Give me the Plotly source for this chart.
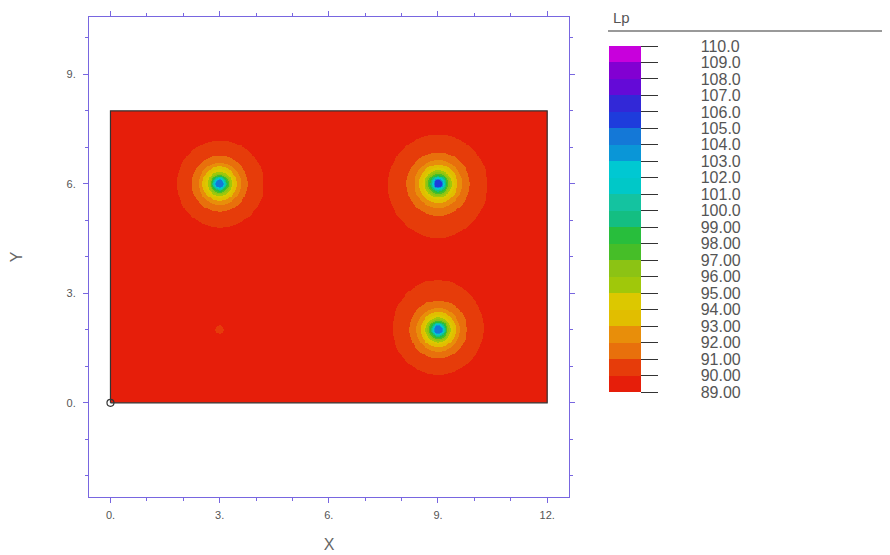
import numpy as np
import plotly.graph_objects as go

# ---------------- data ----------------
room_x = [0, 12, 12, 0, 0]          # room outline (m)
room_y = [0, 0, 8, 8, 0]
origin_x = [0]
origin_y = [0]

src_x = [3.0, 9.0, 9.0, 3.0]        # source positions (m)
src_y = [6.0, 6.0, 2.0, 2.0]
src_lw = [84.1, 85.1, 84.3, 63.5]   # level at 1 m (dB), estimated from ring radii
background_lp = 89.05               # level far from the sources (dB)
near_field_r = 0.1                  # minimum distance used near a source (m)
grid_step = 0.025                   # field sampling (m)

levels = [89, 90, 91, 92, 93, 94, 95, 96, 97, 98, 99, 100,
          101, 102, 103, 104, 105, 106, 107, 108, 109, 110]
level_labels = ["89.00", "90.00", "91.00", "92.00", "93.00", "94.00", "95.00",
                "96.00", "97.00", "98.00", "99.00", "100.0", "101.0", "102.0",
                "103.0", "104.0", "105.0", "106.0", "107.0", "108.0", "109.0",
                "110.0"]
band_colors = ["#E61E0A", "#E63C0A", "#E8700C", "#E88E0A", "#E1BE00", "#DCC800",
               "#A0C80A", "#8CC314", "#46BE28", "#28BE3C", "#14BE82", "#14C3A0",
               "#00C8C8", "#00C8D2", "#0A96D7", "#1478D7", "#1E3CDC", "#3228D7",
               "#640AD7", "#8200D2", "#C800DC"]

x_ticks = [0, 3, 6, 9, 12]
x_tick_labels = ["0.", "3.", "6.", "9.", "12."]
y_ticks = [0, 3, 6, 9]
y_tick_labels = ["0.", "3.", "6.", "9."]

# ---------------- field ----------------
nx = int(round(12 / grid_step))
ny = int(round(8 / grid_step))
xc = grid_step / 2 + grid_step * np.arange(nx)
yc = grid_step / 2 + grid_step * np.arange(ny)
XX, YY = np.meshgrid(xc, yc)
energy = np.full(XX.shape, 10 ** (background_lp / 10))
for sx, sy, lw in zip(src_x, src_y, src_lw):
    r = np.maximum(np.hypot(XX - sx, YY - sy), near_field_r)
    energy += 10 ** ((lw - 20 * np.log10(r)) / 10)
Z = np.round(10 * np.log10(energy), 3)

# stepwise colour scale
nb = len(band_colors)
colorscale = []
for k, c in enumerate(band_colors):
    colorscale.append([k / nb, c])
    colorscale.append([(k + 1) / nb, c])

FONT = "Liberation Sans, Arial, sans-serif"
axis_color = "#7866E0"
nbsp = "\u00a0" * 9

# page body has an 8 px margin: figure is placed at (8, 8)
W, H = 882, 547
L, T = 81, 9            # plot area: 480 x 480 px
PW, PH = 480, 480
R = W - L - PW
B = H - T - PH


def px_x(px):   # page pixel -> paper x
    return (px - 8 - L) / PW


def px_y(py):   # page pixel -> paper y
    return (T + PH - (py - 8)) / PH


fig = go.Figure()
fig.add_trace(go.Heatmap(
    z=Z, x0=xc[0], dx=grid_step, y0=yc[0], dy=grid_step,
    zmin=levels[0], zmax=levels[-1], colorscale=colorscale,
    hoverinfo="skip",
    colorbar=dict(
        x=px_x(609), xanchor="left", xpad=0,
        y=px_y(46), yanchor="top", ypad=0,
        lenmode="pixels", len=346, thickness=32,
        outlinewidth=0,
        tickmode="array", tickvals=levels,
        ticktext=[nbsp + t for t in level_labels],
        ticks="outside", ticklen=17, tickwidth=1, tickcolor="#333",
        tickfont=dict(family=FONT, size=16, color="#555"),
    ),
))
fig.add_trace(go.Scatter(
    x=room_x, y=room_y, mode="lines",
    line=dict(color="#333", width=1.2), hoverinfo="skip", showlegend=False))
fig.add_trace(go.Scatter(
    x=origin_x, y=origin_y, mode="markers",
    marker=dict(symbol="circle-open", size=7, color="#333", line=dict(width=1.2)),
    hoverinfo="skip", showlegend=False))

fig.update_xaxes(
    range=[-0.59, 12.6], tickmode="array", tickvals=x_ticks, ticktext=x_tick_labels,
    ticks="outside", ticklen=5, tickwidth=1, tickcolor=axis_color,
    showline=True, linecolor=axis_color, linewidth=1, mirror="ticks",
    showgrid=False, zeroline=False, automargin=False, ticklabelstandoff=3,
    minor=dict(tickmode="linear", tick0=0, dtick=1, ticks="outside", ticklen=3,
               tickcolor=axis_color, showgrid=False),
    tickfont=dict(family=FONT, size=11, color="#555"),
    title=dict(text="X", font=dict(family=FONT, size=16, color="#666"), standoff=18),
)
fig.update_yaxes(
    range=[-2.58, 10.57], tickmode="array", tickvals=y_ticks, ticktext=y_tick_labels,
    ticks="outside", ticklen=5, tickwidth=1, tickcolor=axis_color,
    showline=True, linecolor=axis_color, linewidth=1, mirror="ticks",
    showgrid=False, zeroline=False, automargin=False, ticklabelstandoff=5,
    minor=dict(tickmode="linear", tick0=0, dtick=1, ticks="outside", ticklen=3,
               tickcolor=axis_color, showgrid=False),
    tickfont=dict(family=FONT, size=11, color="#555"),
    title=dict(text="Y", font=dict(family=FONT, size=16, color="#666"), standoff=40),
)

fig.update_layout(
    template="none",
    width=W, height=H,
    margin=dict(l=L, r=R, t=T, b=B, pad=0),
    paper_bgcolor="white", plot_bgcolor="white",
    showlegend=False,
    font=dict(family=FONT, color="#555"),
    annotations=[dict(
        text="Lp", xref="paper", yref="paper",
        x=px_x(611), y=px_y(18), xanchor="left", yanchor="middle",
        showarrow=False, font=dict(family=FONT, size=15, color="#555"))],
    shapes=[dict(
        type="line", xref="paper", yref="paper",
        x0=px_x(608), x1=px_x(890),
        y0=px_y(31), y1=px_y(31),
        line=dict(color="#999", width=2))],
)

fig.write_html("out.html")
